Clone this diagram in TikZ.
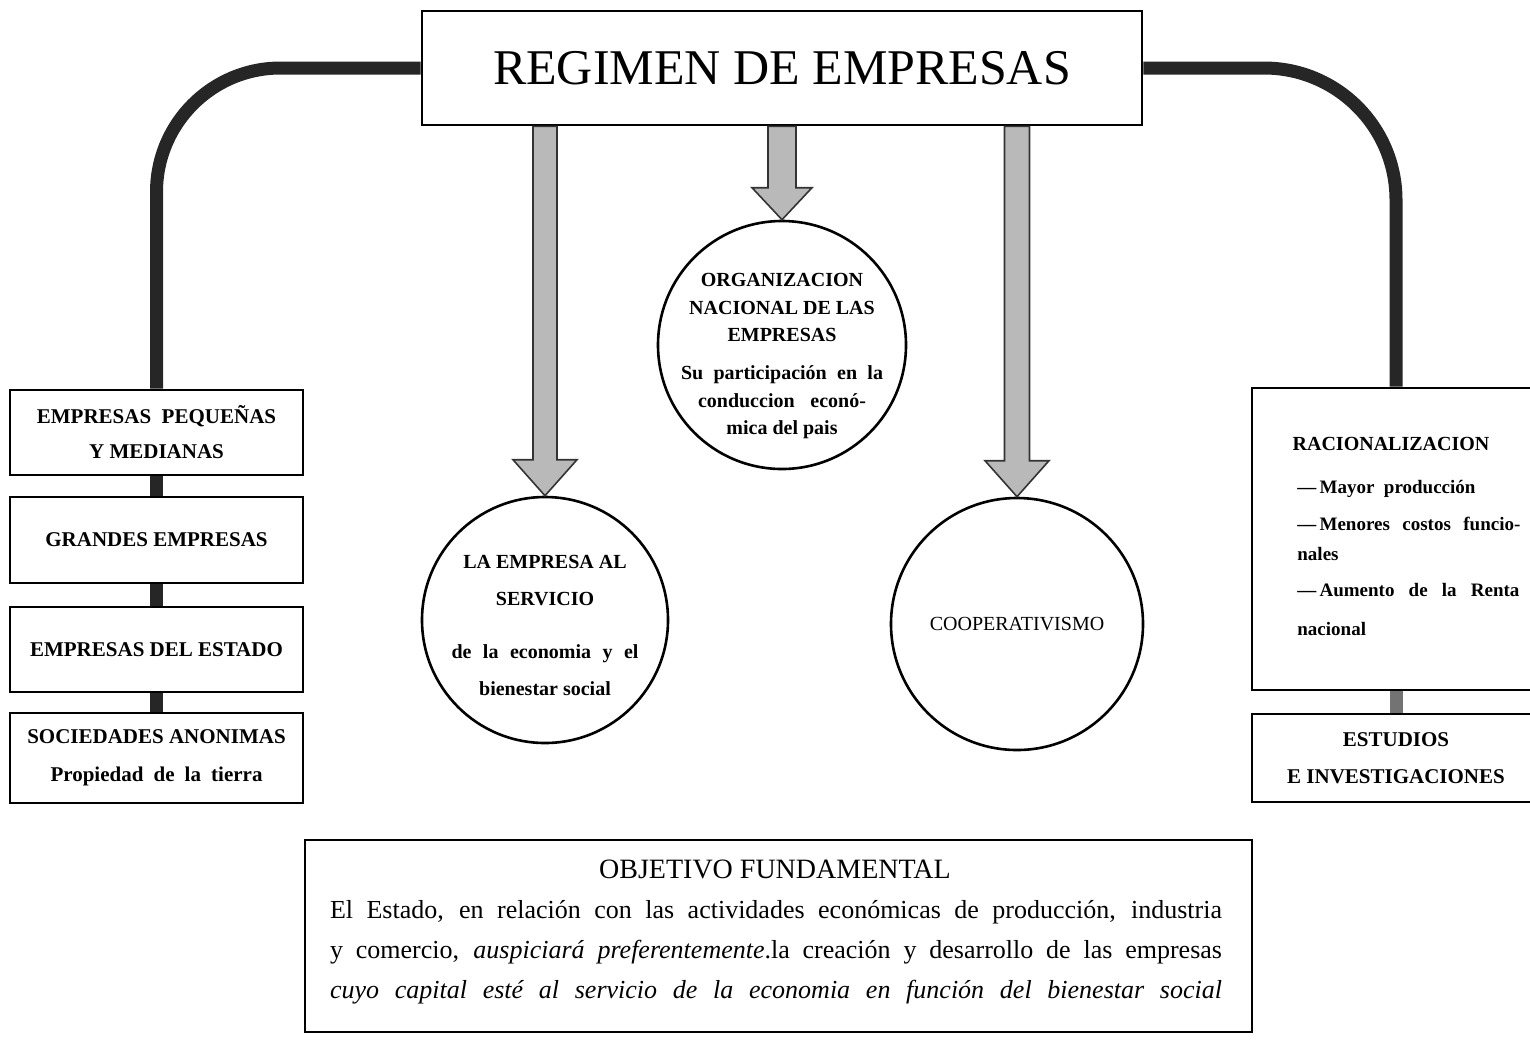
\documentclass[tikz,border=0pt]{standalone}
\usepackage{fontspec}
\setmainfont{Liberation Serif}
\usetikzlibrary{calc}
\tikzset{
  box/.style={draw=black, line width=1.4pt, fill=white, inner sep=0pt, align=center},
  lab/.style={font=\fontsize{10.5}{17.5}\selectfont\bfseries},
  circ/.style={draw=black, line width=1.3pt, circle, inner sep=0pt, align=center},
  bar/.style={line width=6.5pt, draw=black!85},
  bigarr/.style={fill=gray!55, draw=black!80, line width=0.8pt, line join=miter},
  txt/.style={inner sep=0pt},
  ctxt/.style={inner sep=0pt, align=center},
}
% #1 start (on box), #2 tip, #3 shaft half width, #4 head half width, #5 head length
\newcommand\bigarrow[5]{%
  \path[bigarr] let \p1=(#1), \p2=(#2) in
    (\x2-#3,\y1) -- (\x2+#3,\y1) -- (\x2+#3,\y2+#5) -- (\x2+#4,\y2+#5) --
    (\x2,\y2) -- (\x2-#4,\y2+#5) -- (\x2-#3,\y2+#5) -- cycle;}
\begin{document}
\begin{tikzpicture}[x=0.5pt,y=-0.5pt]
\useasboundingbox (0,0) rectangle (1530,1040);

% title
\node[box, minimum width=360pt, minimum height=57pt,
      font=\fontsize{25}{30}\selectfont] (title) at (782,68) {REGIMEN DE EMPRESAS};

% left column
\node[box, lab, minimum width=146.5pt, minimum height=42.5pt] (pyme) at (156.5,432.5)
  {EMPRESAS\enspace PEQUEÑAS\\Y MEDIANAS};
\node[box, lab, minimum width=146.5pt, minimum height=43pt] (grandes) at (156.5,540)
  {GRANDES EMPRESAS};
\node[box, lab, minimum width=146.5pt, minimum height=42.5pt] (estado) at (156.5,649.5)
  {EMPRESAS DEL ESTADO};
\node[box, lab, font=\fontsize{10.5}{19}\selectfont\bfseries,
      minimum width=146.5pt, minimum height=45pt] (soc) at (156.5,758)
  {SOCIEDADES ANONIMAS\\\makebox[106pt][s]{Propiedad de la tierra}};

% right column
\node[box, minimum width=144pt, minimum height=151pt] (rac) at (1396,539) {};
\node[box, lab, font=\fontsize{10.5}{18.5}\selectfont\bfseries,
      minimum width=144pt, minimum height=44pt] (est) at (1396,758)
  {ESTUDIOS\\E INVESTIGACIONES};
\node[txt, anchor=base, font=\fontsize{10}{12}\selectfont\bfseries] (racT) at (1391,450) {RACIONALIZACION};
\begin{scope}[every node/.style={txt, anchor=base west, font=\fontsize{9.5}{12}\selectfont\bfseries}]
\node (r1) at (1297,493) {—\,Mayor\ \ producción};
\node (r2) at (1297,530) {\makebox[111.5pt][s]{—\,Menores costos funcio-}};
\node (r3) at (1297,560) {nales};
\node (r4) at (1297,596) {\makebox[111pt][s]{—\,Aumento de la Renta}};
\node (r5) at (1297,635) {nacional};
\end{scope}

% circles
\node[circ, minimum size=123pt] (c1) at (545,620) {};
\node[ctxt, font=\fontsize{10}{18.5}\selectfont\bfseries] (c1t) at ([yshift=-2.75pt]c1.center)
  {LA EMPRESA AL\\SERVICIO\\[8pt]\makebox[93.5pt][s]{de la economia y el}\\bienestar social};
\node[circ, minimum size=124pt] (c2) at (782,345) {};
\node[ctxt, font=\fontsize{10}{13.75}\selectfont\bfseries] (c2t) at ([yshift=-5.5pt]c2.center)
  {ORGANIZACION\\NACIONAL DE LAS\\EMPRESAS\\[5.25pt]\makebox[101pt][s]{Su participación en la}\\
   \makebox[84pt][s]{conduccion econó-}\\mica del pais};
\node[circ, minimum size=126pt, font=\fontsize{10}{12}\selectfont] (c3) at (1017,624) {COOPERATIVISMO};

% bottom box
\node[box, minimum width=473.5pt, minimum height=96pt] (obj) at (778.5,936) {};
\node[txt, anchor=base, font=\fontsize{14}{16}\selectfont] (objT) at (775,878) {OBJETIVO FUNDAMENTAL};
\begin{scope}[every node/.style={txt, anchor=base, font=\fontsize{13}{20}\selectfont}]
\node (o1) at (776,918) {\makebox[446pt][s]{El Estado, en relación con las actividades económicas de producción, industria}};
\node (o2) at (776,958) {\makebox[446pt][s]{y comercio, \textit{auspiciará preferentemente}.la creación y desarrollo de las empresas}};
\node (o3) at (776,998) {\makebox[446pt][s]{\itshape cuyo capital esté al servicio de la economia en función del bienestar social}};
\end{scope}

% thick connectors
\draw[bar, rounded corners=62pt] (title.west) -| (pyme.north);
\draw[bar, rounded corners=66pt] (title.east) -| (rac.north);
\draw[bar] (pyme.south) -- (grandes.north);
\draw[bar] (grandes.south) -- (estado.north);
\draw[bar] (estado.south) -- (soc.north);
\draw[bar, draw=black!55] (rac.south) -- (est.north);

% big arrows
\bigarrow{title.south -| c1.north}{c1.north}{6pt}{16pt}{18pt}
\bigarrow{title.south -| c2.north}{c2.north}{7pt}{15pt}{16pt}
\bigarrow{title.south -| c3.north}{c3.north}{6.25pt}{16pt}{18pt}
\end{tikzpicture}
\end{document}
